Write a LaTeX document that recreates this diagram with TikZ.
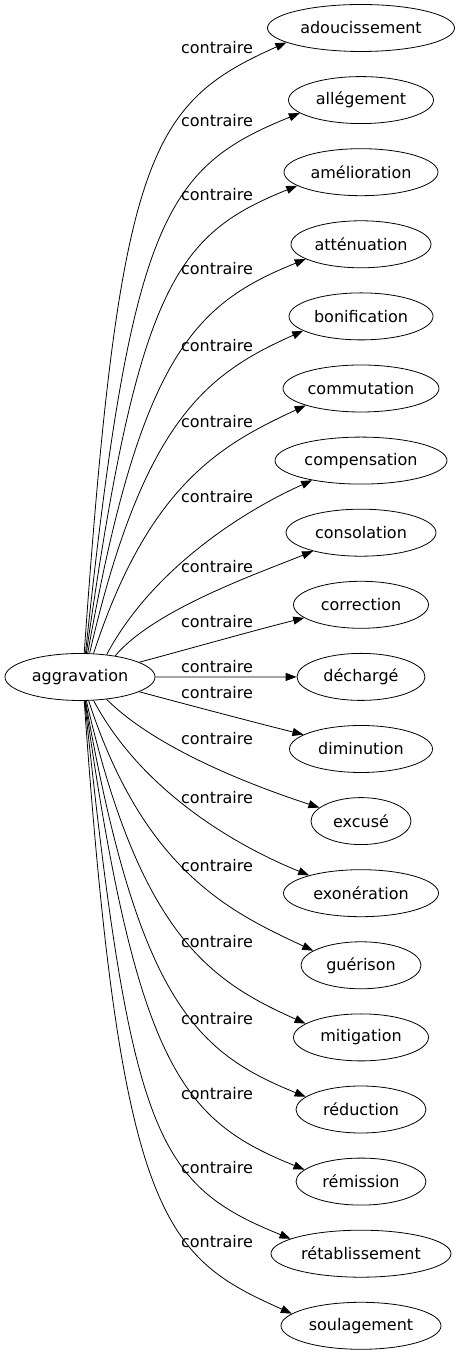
\documentclass[tikz,border=0pt]{standalone}
\usepackage{fontspec}
\setmainfont{DejaVu Sans}
\usetikzlibrary{arrows.meta,positioning,shapes.geometric}
\tikzset{
    term/.style = {
        draw,
        ellipse,
        line width=0.8pt,
        minimum height=47pt,
        inner sep=1pt,
        font=\fontsize{16}{19}\selectfont,
        },
    rel/.style = {
        inner sep=0pt,
        font=\fontsize{16}{19}\selectfont,
        },
    link/.style = {
        -{Triangle[length=11pt,width=8pt]},
        line width=0.8pt,
        },
}
\begin{document}
\begin{tikzpicture}[x=1pt,y=1pt]
            \useasboundingbox (0,0) rectangle (457,1355);

            \node[term, minimum width=150pt] (agg) at (80,678) {aggravation};

            \node[term, minimum width=187pt] (adou) at (361,1327) {adoucissement};
            \node[term, minimum width=145pt, below=24.3pt of adou] (alleg) {allégement};
            \node[term, minimum width=154pt, below=24.3pt of alleg] (amel) {amélioration};
            \node[term, minimum width=140pt, below=24.3pt of amel] (atten) {atténuation};
            \node[term, minimum width=144pt, below=24.3pt of atten] (bonif) {bonification};
            \node[term, minimum width=156pt, below=24.3pt of bonif] (commu) {commutation};
            \node[term, minimum width=172pt, below=24.3pt of commu] (compe) {compensation};
            \node[term, minimum width=150pt, below=24.3pt of compe] (conso) {consolation};
            \node[term, minimum width=135pt, below=24.3pt of conso] (corr) {correction};
            \node[term, minimum width=128pt, below=24.3pt of corr] (decha) {déchargé};
            \node[term, minimum width=143pt, below=24.3pt of decha] (dimin) {diminution};
            \node[term, minimum width=100pt, below=24.3pt of dimin] (excu) {excusé};
            \node[term, minimum width=155pt, below=24.3pt of excu] (exon) {exonération};
            \node[term, minimum width=120pt, below=24.3pt of exon] (gueri) {guérison};
            \node[term, minimum width=135pt, below=24.3pt of gueri] (miti) {mitigation};
            \node[term, minimum width=130pt, below=24.3pt of miti] (reduc) {réduction};
            \node[term, minimum width=130pt, below=24.3pt of reduc] (remi) {rémission};
            \node[term, minimum width=180pt, below=24.3pt of remi] (retab) {rétablissement};
            \node[term, minimum width=160pt, below=24.3pt of retab] (soul) {soulagement};

            % edge labels
            \node[rel] (c1) at (217,1307) {contraire};
            \node[rel] (c2) at (217,1234) {contraire};
            \node[rel] (c3) at (217,1160) {contraire};
            \node[rel] (c4) at (217,1086) {contraire};
            \node[rel] (c5) at (217,1009) {contraire};
            \node[rel] (c6) at (217,933) {contraire};
            \node[rel] (c7) at (217,858) {contraire};
            \node[rel] (c8) at (217,788) {contraire};
            \node[rel] (c9) at (217,733) {contraire};
            \node[rel] (c10) at (217,688) {contraire};
            \node[rel] (c11) at (217,662) {contraire};
            \node[rel] (c12) at (217,616) {contraire};
            \node[rel] (c13) at (217,557) {contraire};
            \node[rel] (c14) at (217,489) {contraire};
            \node[rel] (c15) at (217,413) {contraire};
            \node[rel] (c16) at (217,336) {contraire};
            \node[rel] (c17) at (217,261) {contraire};
            \node[rel] (c18) at (217,187) {contraire};
            \node[rel] (c19) at (217,113) {contraire};

            \draw[link] (agg.80) to[out=86, in=204, out distance=500pt, in distance=150pt] (adou.191);
            \draw[link] (agg.77) to[out=84, in=202, out distance=437pt, in distance=145pt] (alleg.192);
            \draw[link] (agg.75) to[out=82, in=202, out distance=373pt, in distance=130pt] (amel.192);
            \draw[link] (agg.72) to[out=80, in=202, out distance=305pt, in distance=118pt] (atten.195);
            \draw[link] (agg.68) to[out=77, in=204, out distance=240pt, in distance=105pt] (bonif.194);
            \draw[link] (agg.60) to[out=72, in=205, out distance=180pt, in distance=90pt] (commu.197);
            \draw[link] (agg.40) to[out=62, in=204, out distance=100pt, in distance=70pt] (compe.202);
            \draw[link] (agg.31) to[out=50, in=202, out distance=60pt, in distance=60pt] (conso.201);
            \draw[link] (agg.14) to[out=15, in=194, out distance=50pt, in distance=50pt] (corr.193);
            \draw[link] (agg) -- (decha);
            \draw[link] (agg.-14) to[out=-15, in=166, out distance=50pt, in distance=50pt] (dimin.166);
            \draw[link] (agg.-40) to[out=-45, in=162, out distance=70pt, in distance=70pt] (excu.162);
            \draw[link] (agg.-60) to[out=-62, in=158, out distance=105pt, in distance=75pt] (exon.161);
            \draw[link] (agg.-70) to[out=-72, in=155, out distance=180pt, in distance=90pt] (gueri.163);
            \draw[link] (agg.-75) to[out=-77, in=156, out distance=240pt, in distance=105pt] (miti.166);
            \draw[link] (agg.-77) to[out=-80, in=158, out distance=305pt, in distance=118pt] (reduc.167);
            \draw[link] (agg.-78) to[out=-82, in=158, out distance=373pt, in distance=130pt] (remi.168);
            \draw[link] (agg.-79) to[out=-84, in=158, out distance=437pt, in distance=145pt] (retab.168);
            \draw[link] (agg.-80) to[out=-86, in=156, out distance=520pt, in distance=140pt] (soul.170);
\end{tikzpicture}
\end{document}
